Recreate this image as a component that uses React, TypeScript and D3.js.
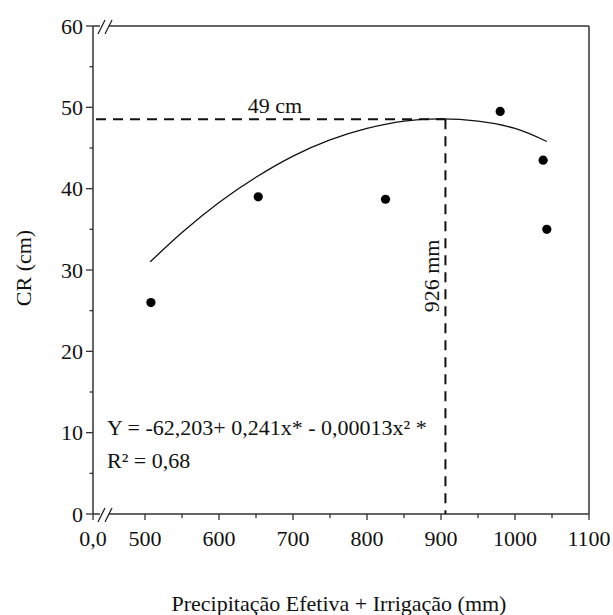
import React from "react";
import * as d3 from "d3";

const obsX = [508, 653, 825, 980, 1038, 1043];
const obsY = [26.0, 39.0, 38.7, 49.5, 43.5, 35.0];
const fitX = [507, 550, 600, 650, 700, 750, 800, 850, 900, 950, 1000, 1043];
const fitY = [31.0, 34.6, 38.3, 41.4, 44.0, 46.0, 47.4, 48.3, 48.57, 48.3, 47.4, 45.8];
const xTicks = [500, 600, 700, 800, 900, 1000, 1100];
const xMinor = [550, 650, 750, 850, 950, 1050];
const yTicks = [0, 10, 20, 30, 40, 50, 60];
const yMinor = [5, 15, 25, 35, 45, 55];
const optX = 906;
const optY = 48.55;
const originLabel = "0,0";
const equation = "Y = -62,203+ 0,241x* - 0,00013x² *";
const r2Label = "R² = 0,68";
const optXLabel = "926 mm";
const optYLabel = "49 cm";
const xTitle = "Precipitação Efetiva + Irrigação (mm)";
const yTitle = "CR (cm)";

const W = 613, H = 615;
const left = 93, right = 589, top = 26, bottom = 514;
const FONT = "'Liberation Serif', 'Times New Roman', serif";

export default function App() {
  const x = d3.scaleLinear().domain([500, 1100]).range([145, right]);
  const y = d3.scaleLinear().domain([0, 60]).range([bottom, top]);
  const line = d3
    .line<number>()
    .x((_, i) => x(fitX[i]))
    .y((d) => y(d))
    .curve(d3.curveNatural);
  const fs = 22;
  const breakMarks = (yy: number) => (
    <g stroke="#222" strokeWidth={1.3}>
      <line x1={98} y1={yy + 8} x2={105} y2={yy - 6} />
      <line x1={105} y1={yy + 8} x2={112} y2={yy - 6} />
    </g>
  );
  return (
    <svg
      width={W}
      height={H}
      style={{ position: "absolute", left: 0, top: 0, background: "#fff" }}
      fontFamily={FONT}
    >
      <rect x={0} y={0} width={W} height={H} fill="#fff" />
      <g stroke="#333" strokeWidth={1.5} fill="none">
        <line x1={left} y1={top} x2={left} y2={bottom} />
        <line x1={right} y1={top} x2={right} y2={bottom} />
        <line x1={left} y1={top} x2={100} y2={top} />
        <line x1={109} y1={top} x2={right} y2={top} />
        <line x1={left} y1={bottom} x2={100} y2={bottom} />
        <line x1={109} y1={bottom} x2={right} y2={bottom} />
      </g>
      {breakMarks(top)}
      {breakMarks(bottom)}
      <g stroke="#333" strokeWidth={1.3}>
        {yTicks.map((t) => (
          <line key={t} x1={left - 7} x2={left} y1={y(t)} y2={y(t)} />
        ))}
        {yMinor.map((t) => (
          <line key={t} x1={left - 3.5} x2={left} y1={y(t)} y2={y(t)} />
        ))}
        <line x1={left} x2={left} y1={bottom} y2={bottom + 6} />
        {xTicks.map((t) => (
          <line key={t} x1={x(t)} x2={x(t)} y1={bottom} y2={bottom + 6} />
        ))}
        {xMinor.map((t) => (
          <line key={t} x1={x(t)} x2={x(t)} y1={bottom} y2={bottom + 4} />
        ))}
      </g>
      <g fontSize={fs} fill="#111">
        {yTicks.map((t) => (
          <text key={t} x={left - 10} y={y(t)} dy="0.35em" textAnchor="end">
            {t}
          </text>
        ))}
        <text x={left} y={bottom + 32} textAnchor="middle">
          {originLabel}
        </text>
        {xTicks.map((t) => (
          <text key={t} x={x(t)} y={bottom + 32} textAnchor="middle">
            {t}
          </text>
        ))}
      </g>
      <g stroke="#111" strokeWidth={2} strokeDasharray="10,7" fill="none">
        <line x1={left + 3} x2={x(optX)} y1={y(optY)} y2={y(optY)} />
        <line x1={x(optX)} x2={x(optX)} y1={y(optY)} y2={bottom} />
      </g>
      <path d={line(fitY) || ""} fill="none" stroke="#111" strokeWidth={1.3} />
      {obsX.map((v, i) => (
        <circle key={i} cx={x(v)} cy={y(obsY[i])} r={4.6} fill="#000" />
      ))}
      <g fontSize={fs} fill="#111">
        <text x={275} y={113} textAnchor="middle">
          {optYLabel}
        </text>
        <text
          transform={`translate(${x(optX) - 6},276) rotate(-90)`}
          textAnchor="middle"
        >
          {optXLabel}
        </text>
        <text x={107} y={435}>{equation}</text>
        <text x={107} y={468}>{r2Label}</text>
        <text x={339} y={611} textAnchor="middle">
          {xTitle}
        </text>
        <text
          transform={`translate(31,268) rotate(-90)`}
          textAnchor="middle"
        >
          {yTitle}
        </text>
      </g>
    </svg>
  );
}
